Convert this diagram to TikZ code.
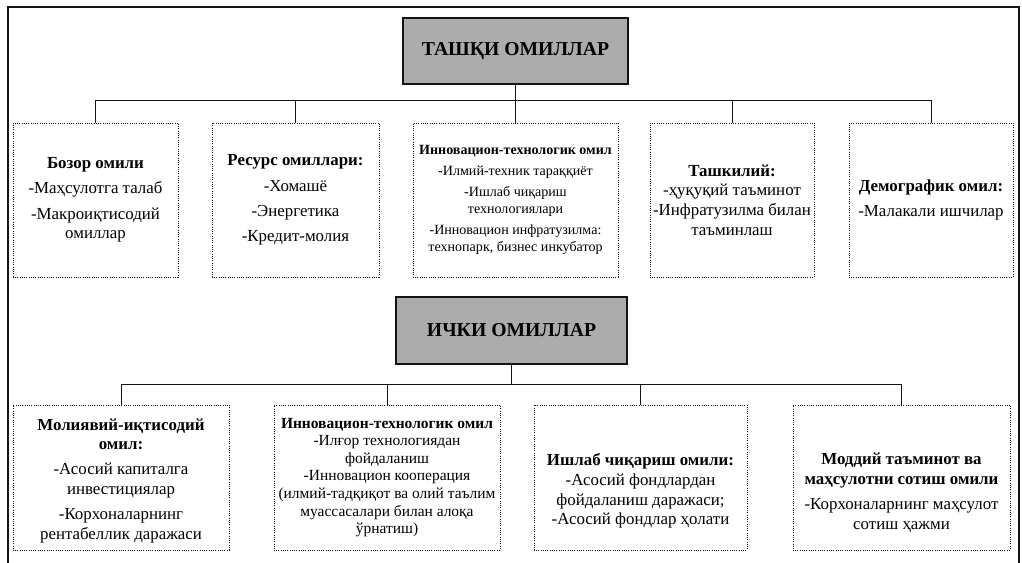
\documentclass[tikz,border=0pt]{standalone}
\usepackage{fontspec}
\setmainfont{Liberation Serif}
\usepackage{xcolor}
\usepackage{tikz}
\usetikzlibrary{positioning, calc}
\definecolor{mydark}{RGB}{20,20,20}
\definecolor{hdrgray}{RGB}{172,172,172}
\tikzset{
  hdrbox/.style={rectangle, draw=mydark, fill=hdrgray, align=center,
    font=\bfseries\fontsize{14}{16}\selectfont, line width=0.8pt},
  factbox/.style={rectangle, draw=mydark, densely dotted, align=center,
    font=\fontsize{12}{14}\selectfont, inner sep=2pt, line width=0.6pt},
  link/.style={thin, color=mydark},
  frame/.style={line width=1.1pt, color=mydark}
}
\newcommand{\vpad}[1]{\rule{0pt}{#1}}

\begin{document}
\begin{tikzpicture}[x=0.025cm, y=-0.025cm]
  \useasboundingbox (0,0) rectangle (1022,563);
  % Outer frame (open at the bottom)
  \draw[frame] (8,563) -- (8,7) -- (1019,7) -- (1019,563);

  % External factors
  \node[hdrbox, minimum width=5.625cm, minimum height=1.65cm] (ext) at (515.5,51) {ТАШҚИ ОМИЛЛАР};

  \node[factbox, minimum width=4.125cm, minimum height=3.85cm] (market) at (95.5,200)
    {\textbf{Бозор омили}\\[4pt] -Маҳсулотга талаб\\[4pt] -Макроиқтисодий\\ омиллар};
  \node[factbox, minimum width=4.175cm, minimum height=3.85cm] (resource) at (295.5,200)
    {\textbf{Ресурс омиллари:}\\[4pt] -Хомашё\\[4pt] -Энергетика\\[4pt] -Кредит-молия};
  \node[factbox, minimum width=5.125cm, minimum height=3.85cm, font=\fontsize{10}{12}\selectfont] (innovext) at (515.5,200)
    {\textbf{Инновацион-технологик омил}\\[3pt] -Илмий-техник тараққиёт\\[3pt] -Ишлаб чиқариш\\ технологиялари\\[3pt] -Инновацион инфратузилма:\\ технопарк, бизнес инкубатор};
  \node[factbox, minimum width=4.1cm, minimum height=3.85cm] (orgn) at (732,200)
    {\textbf{Ташкилий:}\\ -ҳуқуқий таъминот\\ -Инфратузилма билан\\ таъминлаш};
  \node[factbox, minimum width=4.1cm, minimum height=3.85cm] (demog) at (931,200)
    {\textbf{Демографик омил:}\\[4pt] -Малакали ишчилар};

  \foreach \b in {market, resource, innovext, orgn, demog}
    \draw[link] (ext.south) -- ++(0,16) -| (\b.north);

  % Internal factors
  \node[hdrbox, minimum width=5.775cm, minimum height=1.675cm] (int) at (511.5,330.5) {ИЧКИ ОМИЛЛАР};

  \node[factbox, minimum width=5.4cm, minimum height=3.625cm] (finance) at (121,477.5)
    {\vpad{13pt}\textbf{Молиявий-иқтисодий}\\ \textbf{омил:}\\[4pt] -Асосий капиталга\\ инвестициялар\\[4pt] -Корхоналарнинг\\ рентабеллик даражаси};
  \node[factbox, minimum width=5.65cm, minimum height=3.625cm, font=\fontsize{11}{12.5}\selectfont] (innovint) at (387,477.5)
    {\textbf{Инновацион-технологик омил}\\ -Илғор технологиядан\\ фойдаланиш\\ -Инновацион кооперация\\ (илмий-тадқиқот ва олий таълим\\ муассасалари билан алоқа\\ ўрнатиш)};
  \node[factbox, minimum width=5.325cm, minimum height=3.625cm] (product) at (640.5,477.5)
    {\vpad{28pt}\textbf{Ишлаб чиқариш омили:}\\ -Асосий фондлардан\\ фойдаланиш даражаси;\\ -Асосий фондлар ҳолати};
  \node[factbox, minimum width=5.425cm, minimum height=3.625cm] (supply) at (901.5,477.5)
    {\vpad{30pt}\textbf{Моддий таъминот ва}\\ \textbf{маҳсулотни сотиш омили}\\[4pt] -Корхоналарнинг маҳсулот\\ сотиш ҳажми};

  \foreach \b in {finance, innovint, product, supply}
    \draw[link] (int.south) -- ++(0,20) -| (\b.north);
\end{tikzpicture}
\end{document}
